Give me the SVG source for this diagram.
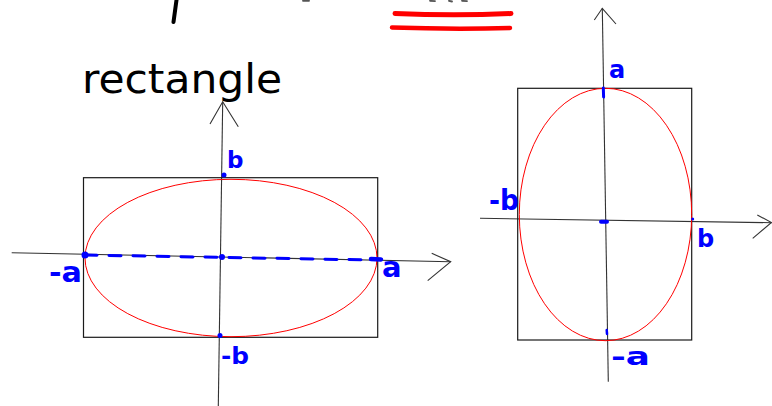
<svg xmlns="http://www.w3.org/2000/svg" width="772" height="406" viewBox="0 0 772 406">
<style>
.ax{stroke:#333;stroke-width:1.1;fill:none}
.box{stroke:#1a1a1a;stroke-width:1.2;fill:none}
.ell{stroke:#ff0000;stroke-width:1;fill:none}
.ink{stroke:#0000ff;stroke-linecap:round;fill:none}
.lbl{font-family:"DejaVu Sans",sans-serif;font-weight:bold;fill:#0000ff}
.hw{font-family:"DejaVu Sans",sans-serif;fill:#000}
.frag{stroke:#555;stroke-width:1.8;stroke-linecap:round}
</style>
<rect width="772" height="406" fill="#fff"/>
<g id="top-fragments">
<line x1="176.5" y1="0" x2="173.5" y2="22" stroke="#000" stroke-width="4" stroke-linecap="round"/>
<line class="frag" x1="303" y1="0.8" x2="309" y2="0.8"/>
<line class="frag" x1="430" y1="0.8" x2="435" y2="1.2"/>
<line class="frag" x1="449" y1="0.8" x2="452" y2="1.5"/>
<line class="frag" x1="462" y1="0.8" x2="467" y2="1.2"/>
</g>
<g id="red-underline">
<path d="M395,13.5 Q455,16 511,13.5" stroke="#ff0000" stroke-width="5" stroke-linecap="round" fill="none"/>
<path d="M392,27.5 Q452,29.5 510,28" stroke="#ff0000" stroke-width="4.5" stroke-linecap="round" fill="none"/>
</g>
<g id="title">
<text class="hw" x="82" y="93" font-size="40" textLength="200" lengthAdjust="spacingAndGlyphs">rectangle</text>
</g>
<g id="connectors">
<line class="ax" x1="11.7" y1="252.7" x2="450.7" y2="261.7"/>
<polyline class="ax" points="431.7,253.3 450.7,261.7 427.7,280.7"/>
<line class="ax" x1="222.7" y1="101.7" x2="218.3" y2="406"/>
<polyline class="ax" points="210,124 222.7,101.7 238.3,126.7"/>
<line class="ax" x1="602.3" y1="8.3" x2="608.3" y2="381.7"/>
<polyline class="ax" points="594.3,20 602.3,8.3 616,24"/>
<line class="ax" x1="480" y1="218.3" x2="771.7" y2="222.7"/>
<polyline class="ax" points="757.3,215 771.5,222.5 752.7,238.3"/>
</g>
<g id="left-ellipse">
<rect class="box" x="83.5" y="177.7" width="294.2" height="159.6"/>
<ellipse class="ell" cx="231" cy="258" rx="146" ry="78.7"/>
<line class="ink" x1="85" y1="255" x2="372" y2="260" stroke-width="3" stroke-dasharray="12 12"/>
<circle cx="85" cy="255" r="3.5" fill="#0000ff"/>
<line class="ink" x1="371" y1="259" x2="381" y2="259.5" stroke-width="4.5"/>
<circle cx="222" cy="257" r="3" fill="#0000ff"/>
<circle cx="224" cy="175" r="2.5" fill="#0000ff"/>
<circle cx="220" cy="335.5" r="2.5" fill="#0000ff"/>
<text class="lbl" x="227" y="168" font-size="23">b</text>
<text class="lbl" x="49" y="282" font-size="28" textLength="33" lengthAdjust="spacingAndGlyphs">-a</text>
<text class="lbl" x="382" y="277" font-size="29">a</text>
<text class="lbl" x="221" y="364" font-size="23" textLength="28" lengthAdjust="spacingAndGlyphs">-b</text>
</g>
<g id="right-ellipse">
<rect class="box" x="517.7" y="88.3" width="174" height="251.7"/>
<ellipse class="ell" cx="605.5" cy="214.5" rx="86.2" ry="126.2"/>
<line class="ink" x1="603.3" y1="88" x2="603.6" y2="97" stroke-width="3"/>
<line class="ink" x1="601" y1="221.7" x2="607" y2="221.7" stroke-width="4"/>
<line class="ink" x1="606.7" y1="330" x2="607" y2="334" stroke-width="2.5"/>
<circle cx="692.7" cy="219" r="1.5" fill="#0000ff"/>
<text class="lbl" x="609" y="78" font-size="24">a</text>
<text class="lbl" x="489" y="210" font-size="28" textLength="30" lengthAdjust="spacingAndGlyphs">-b</text>
<text class="lbl" x="697" y="247" font-size="24">b</text>
<text class="lbl" x="611" y="365" font-size="24" textLength="39" lengthAdjust="spacingAndGlyphs">-a</text>
</g>
</svg>
